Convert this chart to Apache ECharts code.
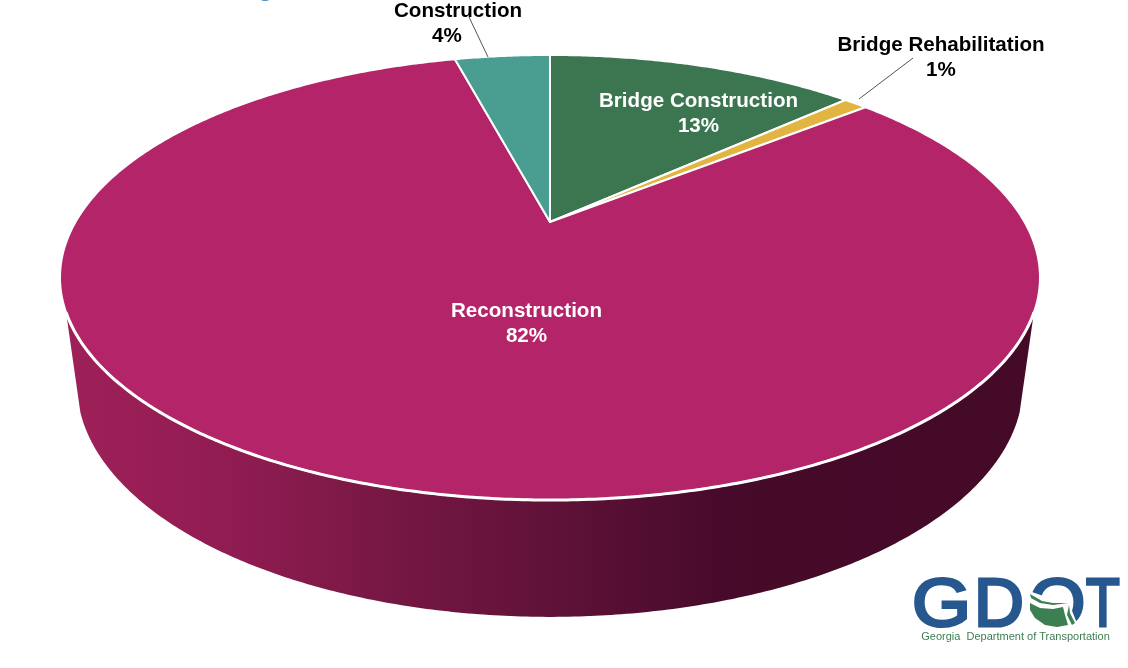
<!DOCTYPE html>
<html>
<head>
<meta charset="utf-8">
<title>GDOT pie</title>
<script src="https://cdn.jsdelivr.net/npm/echarts@6/dist/echarts.min.js"></script>
<style>
  html, body { margin: 0; padding: 0; background: #fff; }
  #main { width: 1128px; height: 668px; }
</style>
</head>
<body>
<div id="main"></div>
<script>
// values, clockwise from 12 o'clock
const categories = ['Bridge Construction', 'Bridge Rehabilitation', 'Reconstruction', 'Construction']
const percents = [13, 1, 82, 4]
const sliceColors = ['#3c7650', '#e2b543', '#b32568', '#4a9e91']
const labelColors = ['#fff', '#000', '#fff', '#000']
const namePos = [[698.5, 101.5], [941, 45.5], [526.5, 311.5], [458, 11.5]]
const percentPos = [[698.5, 126.5], [941, 70.5], [526.5, 336.5], [447, 36.5]]

// perspective of the disc: top face and the lower rim of the side wall
const persp = 0.2494
const topFace = { x: 550, y: 222, rx: 474.5, ry: 208.7 }
const lowFace = { x: 550, y: 327, rx: 458, ry: 217.6 }
// part of the wall that shows, in degrees from 12 o'clock
const topWall = [113, 247]
const lowWall = [110.9, 249.1]

function project (face, deg) {
  const a = deg * Math.PI / 180
  const u = Math.sin(a)
  const v = -Math.cos(a)
  const k = 1 / (1 - persp * v)
  return [face.x + face.rx * u * k, face.y + face.ry * v * k]
}

function rim (face, from, to) {
  const pts = []
  const n = Math.max(2, Math.ceil(Math.abs(to - from) * 2))
  for (let i = 0; i <= n; i++) {
    pts.push(project(face, from + (to - from) * i / n))
  }
  return pts
}

// start and end of each slice in percent
let running = 0
const sliceData = percents.map(function (p, i) {
  const row = [running, running + p, i]
  running += p
  return row
})

function renderTop (params, api) {
  const a = api.value(0) * 3.6
  const b = api.value(1) * 3.6
  return {
    type: 'polygon',
    shape: { points: [[topFace.x, topFace.y]].concat(rim(topFace, a, b)) },
    style: { fill: sliceColors[api.value(2)], stroke: '#fff', lineWidth: 2, lineJoin: 'round' }
  }
}

function renderWall (params, api) {
  const a = api.value(0) * 3.6
  const b = api.value(1) * 3.6
  if (b <= topWall[0] || a >= topWall[1]) return null
  const upper = rim(topFace, Math.max(a, topWall[0]), Math.min(b, topWall[1]))
  const lower = rim(lowFace, Math.min(b, lowWall[1]), Math.max(a, lowWall[0]))
  return {
    type: 'polygon',
    shape: { points: upper.concat(lower) },
    style: {
      fill: new echarts.graphic.LinearGradient(0, 0, 1, 0, [
        { offset: 0, color: '#9f2059' },
        { offset: 0.18, color: '#8f1c51' },
        { offset: 0.35, color: '#741742' },
        { offset: 0.5, color: '#601238' },
        { offset: 0.68, color: '#470a2a' },
        { offset: 1, color: '#440a28' }
      ])
    }
  }
}

// white line along the front of the top face
function renderRimLine (params, api) {
  const a = api.value(0) * 3.6
  const b = api.value(1) * 3.6
  if (b <= topWall[0] || a >= topWall[1]) return null
  return {
    type: 'polyline',
    shape: { points: rim(topFace, Math.max(a, topWall[0]), Math.min(b, topWall[1])) },
    style: { fill: 'none', stroke: '#fff', lineWidth: 3 }
  }
}

const labelFont = 'bold 20.6px "Liberation Sans", Arial, sans-serif'

function labelText (text, pos, color) {
  return {
    type: 'text',
    z: 20,
    x: pos[0],
    y: pos[1],
    style: { text: text, fill: color, font: labelFont, align: 'center', verticalAlign: 'middle' }
  }
}

const labels = []
categories.forEach(function (name, i) {
  labels.push(labelText(name, namePos[i], labelColors[i]))
  labels.push(labelText(percents[i] + '%', percentPos[i], labelColors[i]))
})

const leader = { stroke: '#555', lineWidth: 1 }

const logoFont = '69px "Liberation Sans", Arial, sans-serif'
const logoBlue = '#27578f'
const logoGreen = '#3c7f52'

// regular weight with a stroke gives the even stems of the logo
function logoLetter (text, x, scaleX) {
  return {
    type: 'text', z: 30, x: x, y: 641, scaleX: scaleX,
    style: { text: text, fill: logoBlue, stroke: logoBlue, lineWidth: 3, font: logoFont, align: 'left', verticalAlign: 'bottom' }
  }
}

const logo = [
  logoLetter('G', 912, 1.1),
  logoLetter('D', 974, 1),
  logoLetter('O', 1029, 1.05),
  logoLetter('T', 1086, 0.8),
  {
    type: 'polygon', z: 31,
    shape: { points: [[1029, 591], [1058, 601], [1069, 603], [1078, 626], [1060, 631], [1029, 631]] },
    style: { fill: '#fff' }
  },
  {
    type: 'polygon', z: 32,
    shape: { points: [[1030, 594], [1042, 601], [1053, 603], [1068, 603], [1053, 605], [1040, 603], [1031, 598]] },
    style: { fill: logoGreen }
  },
  {
    type: 'polygon', z: 32,
    shape: { points: [[1030, 603], [1040, 608], [1053, 609], [1063, 607], [1065, 615], [1068, 625], [1057, 627], [1045, 625], [1035, 618], [1030, 610]] },
    style: { fill: logoGreen }
  },
  {
    type: 'polygon', z: 32,
    shape: { points: [[1069, 605], [1070, 613], [1075, 623], [1072, 625], [1067, 615]] },
    style: { fill: logoGreen }
  },
  {
    type: 'text', z: 33, x: 1015.5, y: 637,
    style: { text: 'Georgia  Department of Transportation', fill: logoGreen, font: '11px "Liberation Sans", Arial, sans-serif', align: 'center', verticalAlign: 'middle' }
  }
]

const chart = echarts.init(document.getElementById('main'), null, { renderer: 'canvas' })
chart.setOption({
  backgroundColor: '#fff',
  animation: false,
  series: [
    { type: 'custom', coordinateSystem: 'none', z: 1, silent: true, renderItem: renderWall, data: sliceData },
    { type: 'custom', coordinateSystem: 'none', z: 2, silent: true, renderItem: renderTop, data: sliceData },
    { type: 'custom', coordinateSystem: 'none', z: 3, silent: true, renderItem: renderRimLine, data: sliceData }
  ],
  graphic: {
    elements: [
      // clipped remains of a title mark at the top edge
      { type: 'circle', z: 10, shape: { cx: 265, cy: -8, r: 9 }, style: { fill: '#4a8cbd' } },
      { type: 'line', z: 25, shape: { x1: 469, y1: 17, x2: 488, y2: 57 }, style: leader },
      { type: 'line', z: 15, shape: { x1: 913, y1: 58, x2: 859, y2: 99 }, style: leader }
    ].concat(labels, logo)
  }
})
</script>
</body>
</html>
